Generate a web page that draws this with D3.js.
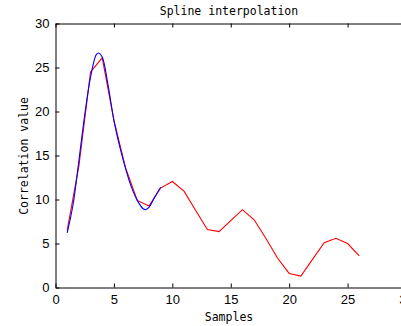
<!DOCTYPE html>
<html>
<head>
<meta charset="utf-8">
<script src="https://cdn.jsdelivr.net/npm/d3@7"></script>
<style>
  body { margin: 0; background: #fff; }
  svg { display: block; }
  .tick text { font-family: "Liberation Sans", Arial, sans-serif; font-size: 13px; fill: #000; }
  .lbl { font-family: "DejaVu Sans Mono", monospace; font-size: 11.5px; fill: #000; }
</style>
</head>
<body>
<svg id="chart" width="401" height="326"></svg>
<script>
// sampled correlation values (red)
const samples = d3.range(1, 27)
const corr = [6.5, 13.8, 24.5, 26.1, 19.0, 13.6, 9.9, 9.25, 11.3, 12.05, 10.95, 8.75, 6.6,
  6.35, 7.6, 8.85, 7.7, 5.6, 3.35, 1.6, 1.3, 3.2, 5.1, 5.6, 5.0, 3.6]

// spline curve (blue)
const splineX = [1, 1.5, 2, 2.5, 3, 3.5, 3.7, 4, 4.5, 5, 5.5, 6, 6.5, 7, 7.5, 7.7, 8, 8.5, 9]
const splineY = [6.2, 9.4, 14.4, 19.6, 23.9, 26.5, 26.65, 26.2, 23.0, 19.0, 16.0, 13.5, 11.4,
  9.9, 8.95, 8.85, 9.1, 10.3, 11.4]

const xTicks = [0, 5, 10, 15, 20, 25, 30]
const yTicks = [0, 5, 10, 15, 20, 25, 30]

const svg = d3.select("#chart")

const x = d3.scaleLinear().domain([0, 30]).range([55.5, 406])
const y = d3.scaleLinear().domain([0, 30]).range([287.5, 23.5])

const line = d3.line()
  .x((d) => x(d[0]))
  .y((d) => y(d[1]))

// bottom axis
svg.append("g")
  .attr("transform", `translate(0,${y(0)})`)
  .call(d3.axisBottom(x).tickValues(xTicks).tickSizeInner(-4).tickSizeOuter(0).tickPadding(7))

// top axis, ticks only
svg.append("g")
  .attr("transform", `translate(0,${y(30)})`)
  .call(d3.axisTop(x).tickValues(xTicks).tickSizeInner(-4).tickSizeOuter(0).tickFormat(""))

// left axis
svg.append("g")
  .attr("transform", `translate(${x(0)},0)`)
  .call(d3.axisLeft(y).tickValues(yTicks).tickSizeInner(-4).tickSizeOuter(0).tickPadding(6))

svg.selectAll(".domain").attr("stroke", "#000").attr("stroke-width", 1)
svg.selectAll(".tick line").attr("stroke", "#000")

// red: sampled data
svg.append("path")
  .datum(samples.map((s, i) => [s, corr[i]]))
  .attr("fill", "none")
  .attr("stroke", "#ff0000")
  .attr("stroke-width", 1.1)
  .attr("d", line)

// blue: spline
svg.append("path")
  .datum(splineX.map((s, i) => [s, splineY[i]]))
  .attr("fill", "none")
  .attr("stroke", "#0000ff")
  .attr("stroke-width", 1.1)
  .attr("d", line.curve(d3.curveCatmullRom))

// labels
svg.append("text")
  .attr("class", "lbl")
  .attr("x", 229)
  .attr("y", 15)
  .attr("text-anchor", "middle")
  .text("Spline interpolation")

svg.append("text")
  .attr("class", "lbl")
  .attr("x", 229)
  .attr("y", 321)
  .attr("text-anchor", "middle")
  .text("Samples")

svg.append("text")
  .attr("class", "lbl")
  .attr("transform", "translate(28,156) rotate(-90)")
  .attr("text-anchor", "middle")
  .text("Correlation value")
</script>
</body>
</html>
